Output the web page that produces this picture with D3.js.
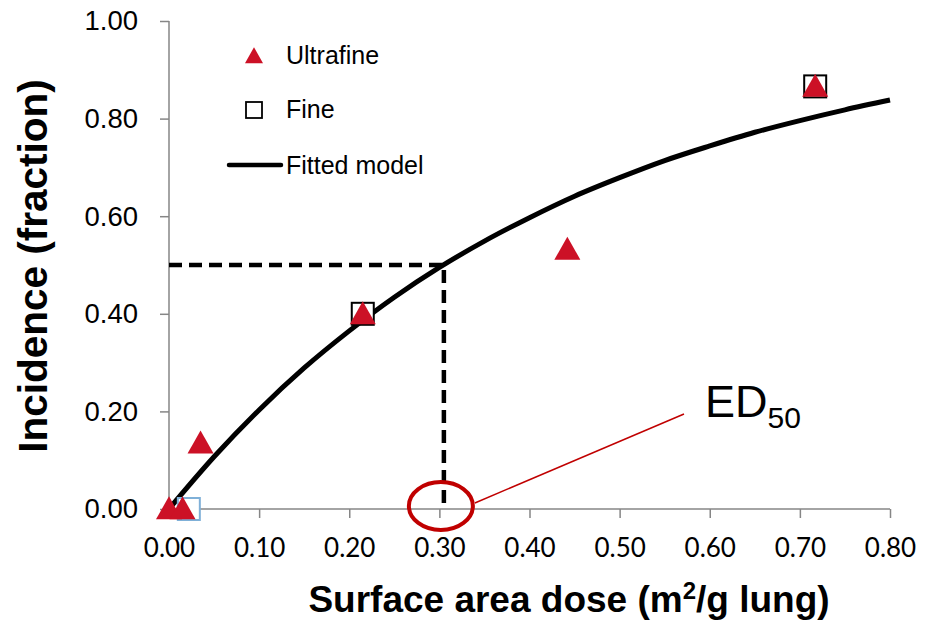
<!DOCTYPE html>
<html>
<head>
<meta charset="utf-8">
<script src="https://cdn.jsdelivr.net/npm/d3@7"></script>
<style>
  body { margin: 0; background: #fff; }
  text { font-family: "Liberation Sans", Arial, sans-serif; }
</style>
</head>
<body>
<div id="chart"></div>
<script>
"use strict";

//********************************* DATA *********************************
var ultrafineDose = [0.00, 0.015, 0.035, 0.215, 0.442, 0.717];
var ultrafineInc  = [0.00, 0.00, 0.135, 0.40, 0.532, 0.866];

var fineDose = [0.022, 0.215, 0.717];
var fineInc  = [0.00, 0.40, 0.866];

// fitted model
var modelDose = [0.00, 0.05, 0.10, 0.15, 0.20, 0.25, 0.30, 0.35, 0.40, 0.45, 0.50, 0.55, 0.60, 0.65, 0.70, 0.75, 0.80];
var modelInc  = [0.00, 0.107, 0.203, 0.289, 0.365, 0.434, 0.495, 0.549, 0.597, 0.641, 0.679, 0.714, 0.744, 0.772, 0.796, 0.818, 0.838];

var ed50Dose = 0.305;
var ed50Inc = 0.50;

var xTicks = [0, 0.1, 0.2, 0.3, 0.4, 0.5, 0.6, 0.7, 0.8];
var yTicks = [0, 0.2, 0.4, 0.6, 0.8, 1.0];

var legendLabels = ["Ultrafine", "Fine", "Fitted model"];

//********************************* SETUP *********************************
var width = 931, height = 624;
var svg = d3.select("#chart").append("svg")
            .attr("width", width)
            .attr("height", height);

var x = d3.scaleLinear().domain([0, 0.8]).range([169, 890]);
var y = d3.scaleLinear().domain([0, 1]).range([509, 21]);

var red = "#cc1126";
var axisGrey = "#868686";

//********************************* AXES *********************************
var yAxis = svg.append("g")
    .attr("transform", "translate(" + x(0) + ",0)")
    .call(d3.axisLeft(y).tickValues(yTicks).tickFormat(d3.format(".2f")).tickSize(9).tickPadding(22));
var xAxis = svg.append("g")
    .attr("transform", "translate(0," + y(0) + ")")
    .call(d3.axisBottom(x).tickValues(xTicks).tickFormat(d3.format(".2f")).tickSize(9).tickPadding(21));

[xAxis, yAxis].forEach(function(a){
    a.select(".domain").attr("stroke", axisGrey).attr("stroke-width", 1.5);
    a.selectAll(".tick line").attr("stroke", axisGrey).attr("stroke-width", 1.5);
    a.selectAll(".tick text").attr("fill", "#000");
});
yAxis.selectAll(".tick text").attr("font-size", 27.5)
    .style("font-family", "'Liberation Sans', Arial, sans-serif");
xAxis.selectAll(".tick text").attr("font-size", 26)
    .style("font-family", "Lato, 'Open Sans', sans-serif");
yAxis.select(".domain").attr("d", "M0," + y(1) + "V" + y(0));
xAxis.select(".domain").attr("d", "M" + x(0) + ",0H" + x(0.8));

//********************************* DASHED ED50 GUIDES *********************************
svg.append("path")
    .attr("d", "M" + x(0) + "," + y(ed50Inc) + "H" + x(ed50Dose) + "V" + y(0))
    .attr("fill", "none")
    .attr("stroke", "#000")
    .attr("stroke-width", 4.5)
    .attr("stroke-dasharray", "13,7");

//********************************* FITTED CURVE *********************************
var line = d3.line()
    .x(function(d, i){ return x(modelDose[i]); })
    .y(function(d, i){ return y(modelInc[i]); })
    .curve(d3.curveMonotoneX);

svg.append("path")
    .datum(modelInc)
    .attr("d", line)
    .attr("fill", "none")
    .attr("stroke", "#000")
    .attr("stroke-width", 5);

//********************************* POINTS *********************************
var sq = 22;
svg.selectAll("rect.fine")
    .data(fineDose)
    .enter()
        .append("rect")
        .attr("class", "fine")
        .attr("x", function(d){ return x(d) - sq / 2; })
        .attr("y", function(d, i){ return y(fineInc[i]) - sq / 2; })
        .attr("width", sq)
        .attr("height", sq)
        .attr("fill", "#fff")
        .attr("stroke", function(d, i){ return fineInc[i] === 0 ? "#7fb0d8" : "#000"; })
        .attr("stroke-width", 2);

function triPath(cx, cy, w, h){
    return "M" + cx + "," + (cy - h * 0.55) + "L" + (cx + w / 2) + "," + (cy + h * 0.45) + "L" + (cx - w / 2) + "," + (cy + h * 0.45) + "Z";
}

svg.selectAll("path.uf")
    .data(ultrafineDose)
    .enter()
        .append("path")
        .attr("class", "uf")
        .attr("d", function(d, i){ return triPath(x(d), y(ultrafineInc[i]), 26, 23); })
        .attr("fill", red);

//********************************* ED50 ANNOTATION *********************************
svg.append("ellipse")
    .attr("cx", x(ed50Dose) - 3)
    .attr("cy", y(0) - 3)
    .attr("rx", 32)
    .attr("ry", 24)
    .attr("fill", "none")
    .attr("stroke", "#c00000")
    .attr("stroke-width", 4);

svg.append("line")
    .attr("x1", x(ed50Dose) + 31).attr("y1", y(0) - 6)
    .attr("x2", 684).attr("y2", 414)
    .attr("stroke", "#c00000")
    .attr("stroke-width", 1.5);

var ed = svg.append("text")
    .attr("x", 705)
    .attr("y", 417)
    .attr("font-size", 45)
    .attr("fill", "#000");
ed.append("tspan").text("ED");
ed.append("tspan").attr("font-size", 30).attr("dy", 11).text("50");

//********************************* LEGEND *********************************
var lg = svg.append("g");
lg.append("path").attr("d", triPath(254, 56, 18, 16)).attr("fill", red);
lg.append("rect").attr("x", 246).attr("y", 102).attr("width", 16).attr("height", 16)
    .attr("fill", "#fff").attr("stroke", "#000").attr("stroke-width", 1.8);
lg.append("line").attr("x1", 229).attr("y1", 165).attr("x2", 281).attr("y2", 165)
    .attr("stroke", "#000").attr("stroke-width", 4.5).attr("stroke-linecap", "round");

lg.selectAll("text.leg")
    .data(legendLabels)
    .enter()
        .append("text")
        .attr("class", "leg")
        .attr("x", 286)
        .attr("y", function(d, i){ return [64, 118, 174][i]; })
        .attr("font-size", 25)
        .text(function(d){ return d; });

//********************************* AXIS TITLES *********************************
svg.append("text")
    .attr("transform", "translate(47," + 266 + ") rotate(-90)")
    .attr("text-anchor", "middle")
    .attr("font-size", 40.5)
    .attr("font-weight", "bold")
    .text("Incidence (fraction)");

var xt = svg.append("text")
    .attr("x", 569)
    .attr("y", 612)
    .attr("text-anchor", "middle")
    .attr("font-size", 37)
    .attr("font-weight", "bold");
xt.append("tspan").text("Surface area dose (m");
xt.append("tspan").attr("font-size", 24).attr("dy", -13).text("2");
xt.append("tspan").attr("dy", 13).text("/g lung)");
</script>
</body>
</html>
